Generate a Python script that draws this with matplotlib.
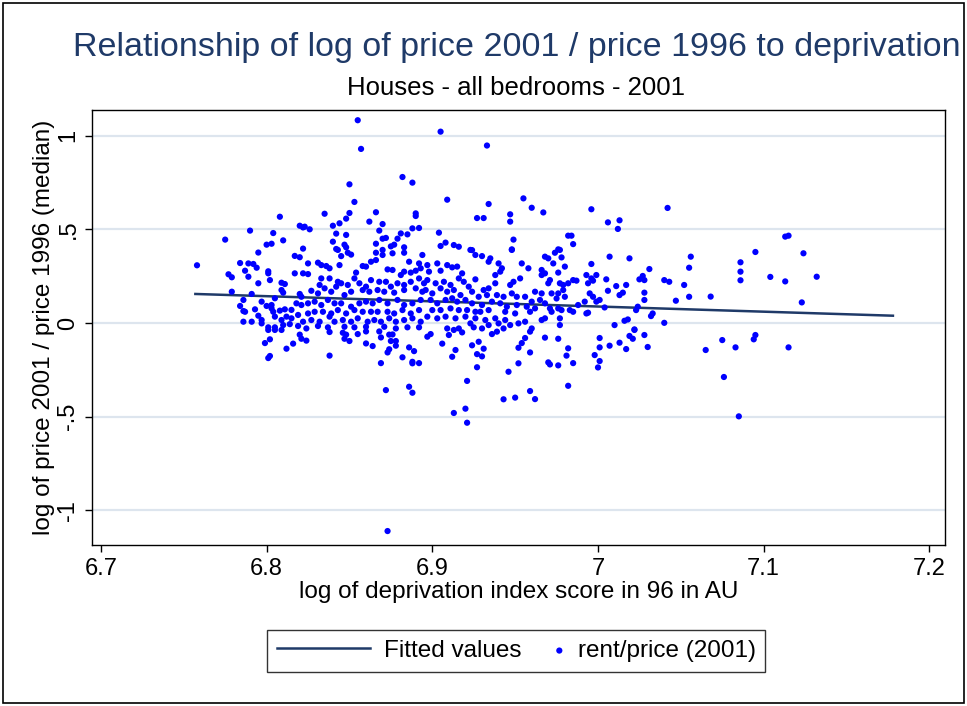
import matplotlib.pyplot as plt
from matplotlib.patches import Rectangle
from matplotlib.legend_handler import HandlerPathCollection

plt.rcParams['font.family'] = ['Liberation Sans', 'DejaVu Sans']

# log of deprivation index score (x) and log price ratio (y)
dep_x = [
    6.808, 6.790, 6.820, 6.822, 6.775, 6.804, 6.810, 6.800, 6.803, 6.822,
    6.855, 6.857, 6.882, 6.888, 6.850, 6.853, 6.835, 6.850, 6.848, 6.844,
    6.840, 6.866, 6.862, 6.870, 6.890, 6.890, 6.823, 6.826, 6.868, 6.888,
    6.892, 6.842, 6.848, 6.881, 6.885, 6.870, 6.872, 6.879, 6.840, 6.866,
    6.847, 6.848, 6.875, 6.877, 6.883, 6.842,
    6.905, 6.933, 6.909, 6.934, 6.955, 6.960, 6.967, 6.927, 6.931, 6.947,
    6.947, 6.904, 6.949, 6.905, 6.908, 6.913, 6.916, 6.924, 6.948,
    6.996, 7.042, 7.006, 7.013, 7.012, 6.982, 6.984, 6.985, 6.976,
    7.113, 7.115, 7.095, 7.124, 7.086, 7.086, 7.086, 7.104, 7.113, 7.132,
    7.068, 7.123, 7.075, 7.095, 7.094, 7.065, 7.083, 7.115, 7.076, 7.085,
    6.897, 6.899, 6.910, 6.913, 6.918, 6.906, 6.914, 6.912, 6.924, 6.928,
    6.931, 6.927, 6.930, 6.927, 6.921, 6.913, 6.920, 6.921, 6.936, 6.939,
    6.946, 6.943, 6.950, 6.952, 6.952, 6.954, 6.956, 6.959, 6.959, 6.959,
    6.962, 6.968, 6.976, 6.982, 6.981, 6.970, 6.971, 6.976, 6.985, 6.982,
    7.001, 7.001, 6.998, 7.001, 7.000, 7.007, 7.013, 7.017, 7.019, 7.021,
    7.022, 7.028, 7.030,
    6.824, 6.838, 6.846, 6.848, 6.847, 6.850, 6.855, 6.860, 6.868, 6.869,
    6.874, 6.876, 6.875, 6.878, 6.860, 6.864, 6.878, 6.874, 6.873, 6.886,
    6.889, 6.838, 6.882, 6.869, 6.888, 6.888, 6.892, 6.872, 6.886, 6.888,
    6.873,
    6.799, 6.802, 6.802, 6.801, 6.812, 6.816, 6.820, 6.821, 6.805, 6.809,
    6.801,
    6.758, 6.795, 6.784, 6.789, 6.792, 6.794, 6.787, 6.777, 6.779, 6.789,
    6.801, 6.801, 6.802, 6.795, 6.817, 6.820, 6.817, 6.822, 6.809, 6.811,
    6.809, 6.810, 6.779, 6.791, 6.820, 6.821, 6.786, 6.784, 6.797, 6.805,
    6.786, 6.787, 6.793, 6.800, 6.803, 6.803, 6.804, 6.808, 6.811, 6.815,
    6.818, 6.821, 6.795, 6.797, 6.805, 6.809, 6.812, 6.815, 6.819, 6.822,
    6.786, 6.791, 6.797, 6.801, 6.805, 6.810, 6.814, 6.819,
    6.825, 6.825, 6.831, 6.833, 6.836, 6.838, 6.843, 6.845, 6.844, 6.849,
    6.851, 6.854, 6.858, 6.860, 6.863, 6.866, 6.866, 6.870, 6.870, 6.876,
    6.883, 6.886, 6.892, 6.894, 6.873, 6.876, 6.881, 6.883, 6.887, 6.890,
    6.893, 6.833, 6.838, 6.832, 6.843, 6.845, 6.849, 6.853, 6.856, 6.860,
    6.863, 6.868, 6.872, 6.875, 6.879, 6.883, 6.887, 6.892, 6.895, 6.827,
    6.831, 6.835, 6.839, 6.842, 6.847, 6.851, 6.858, 6.862, 6.867, 6.871,
    6.877, 6.883, 6.890, 6.894, 6.825, 6.829, 6.833, 6.837, 6.841, 6.845,
    6.851, 6.856, 6.860, 6.864, 6.868, 6.873, 6.879, 6.883, 6.888, 6.893,
    6.825, 6.829, 6.834, 6.839, 6.843, 6.848, 6.853, 6.858, 6.863, 6.867,
    6.873, 6.877, 6.882, 6.887, 6.892, 6.827, 6.832, 6.838, 6.841, 6.846,
    6.851, 6.855, 6.861, 6.865, 6.869, 6.874, 6.878, 6.883, 6.888, 6.893,
    6.824, 6.831, 6.837, 6.847, 6.853, 6.860, 6.871, 6.878, 6.885, 6.892,
    6.897, 6.898, 6.903, 6.905, 6.909, 6.912, 6.915, 6.918, 6.923, 6.926,
    6.930, 6.934, 6.935, 6.940, 6.942, 6.938, 6.941, 6.948, 6.954, 6.958,
    6.966, 6.966, 6.897, 6.902, 6.907, 6.911, 6.916, 6.919, 6.922, 6.926,
    6.931, 6.934, 6.938, 6.947, 6.949, 6.953, 6.951, 6.962, 6.966, 6.896,
    6.900, 6.905, 6.909, 6.913, 6.917, 6.924, 6.928, 6.933, 6.939, 6.943,
    6.948, 6.956, 6.960, 6.965, 6.899, 6.903, 6.908, 6.912, 6.915, 6.920,
    6.924, 6.930, 6.936, 6.941, 6.945, 6.951, 6.957, 6.962, 6.900, 6.905,
    6.911, 6.916, 6.921, 6.926, 6.929, 6.934, 6.944, 6.950, 6.959, 6.897,
    6.903, 6.908, 6.914, 6.920, 6.926, 6.932, 6.938, 6.944, 6.952, 6.956,
    6.923, 6.934, 6.940, 6.947, 6.909, 6.916, 6.925, 6.930, 6.943, 6.960,
    6.966,
    6.968, 6.970, 6.974, 6.978, 6.977, 6.973, 6.980, 6.968, 6.976, 6.971,
    6.970, 6.977, 6.979, 6.982, 6.985, 6.987, 6.993, 6.996, 6.999, 6.994,
    6.997, 7.007, 7.019, 6.996, 7.005, 7.006, 7.011, 7.017, 7.013, 7.015,
    7.025, 7.027, 7.028, 7.031, 7.040, 7.043, 7.056, 7.055, 7.052, 7.055,
    7.047, 7.028, 7.028, 6.972, 6.976, 6.979, 6.975, 6.980, 6.995, 6.997,
    6.999, 7.001, 6.992, 6.988, 6.968, 6.971, 6.976, 6.978, 6.983, 6.985,
    6.972, 7.004, 7.023, 7.024, 6.993, 6.994, 7.033, 7.032, 6.968, 6.977,
    6.977, 7.010, 7.016, 7.018, 7.022, 7.040,
]
price_y = [
    0.567, 0.493, 0.519, 0.510, 0.445, 0.480, 0.441, 0.418, 0.423, 0.397,
    1.082, 0.929, 0.779, 0.749, 0.740, 0.646, 0.583, 0.587, 0.557, 0.532,
    0.519, 0.591, 0.541, 0.528, 0.585, 0.571, 0.514, 0.500, 0.493, 0.505,
    0.507, 0.477, 0.470, 0.478, 0.473, 0.450, 0.454, 0.450, 0.434, 0.423,
    0.418, 0.404, 0.409, 0.418, 0.404, 0.395,
    1.021, 0.947, 0.658, 0.635, 0.665, 0.615, 0.590, 0.560, 0.560, 0.580,
    0.541, 0.482, 0.445, 0.411, 0.429, 0.416, 0.407, 0.389, 0.393,
    0.607, 0.614, 0.537, 0.548, 0.502, 0.466, 0.466, 0.421, 0.393,
    0.461, 0.466, 0.379, 0.372, 0.324, 0.274, 0.228, 0.246, 0.222, 0.247,
    0.141, 0.110, -0.091, -0.064, -0.087, -0.144, -0.130, -0.130, -0.288, -0.498,
    -0.073, -0.059, -0.064, -0.037, -0.050, -0.110, -0.144, -0.180, -0.119, -0.100,
    -0.137, -0.166, -0.178, -0.236, -0.309, -0.480, -0.457, -0.532, -0.059, -0.046,
    -0.260, -0.407, -0.398, -0.215, -0.132, -0.107, -0.080, -0.046, -0.157, -0.363,
    -0.406, -0.078, -0.084, -0.135, -0.174, -0.210, -0.221, -0.226, -0.214, -0.335,
    -0.080, -0.130, -0.171, -0.203, -0.237, -0.121, -0.105, -0.139, -0.069, -0.084,
    -0.037, -0.064, -0.128,
    -0.094, -0.048, -0.052, -0.062, -0.084, -0.096, -0.059, -0.045, -0.045, -0.077,
    -0.062, -0.061, -0.096, -0.096, -0.109, -0.123, -0.121, -0.140, -0.157, -0.130,
    -0.150, -0.174, -0.183, -0.214, -0.207, -0.215, -0.214, -0.358, -0.340, -0.372,
    -1.110,
    -0.107, -0.087, -0.176, -0.187, -0.137, -0.110, -0.062, -0.084, -0.037, -0.037,
    -0.037,
    0.308, 0.376, 0.320, 0.318, 0.315, 0.295, 0.279, 0.260, 0.244, 0.247,
    0.276, 0.265, 0.229, 0.212, 0.358, 0.351, 0.265, 0.265, 0.215, 0.208,
    0.176, 0.162, 0.167, 0.155, 0.155, 0.140, 0.123, 0.091, 0.114, 0.132,
    0.064, 0.060, 0.073, 0.091, 0.078, 0.096, 0.060, 0.066, 0.073, 0.070,
    0.105, 0.096, 0.039, 0.016, 0.034, 0.016, 0.034, 0.025, 0.043, 0.007,
    0.007, 0.007, -0.002, -0.023, -0.023, -0.011, -0.006, -0.016,
    0.318, 0.261, 0.322, 0.309, 0.304, 0.292, 0.390, 0.357, 0.309, 0.375,
    0.365, 0.269, 0.304, 0.301, 0.327, 0.336, 0.375, 0.363, 0.390, 0.372,
    0.375, 0.327, 0.318, 0.363, 0.286, 0.283, 0.256, 0.274, 0.269, 0.279,
    0.292, 0.238, 0.238, 0.203, 0.220, 0.212, 0.203, 0.238, 0.212, 0.194,
    0.229, 0.220, 0.220, 0.194, 0.212, 0.203, 0.220, 0.238, 0.212, 0.172,
    0.158, 0.185, 0.167, 0.194, 0.149, 0.167, 0.176, 0.167, 0.176, 0.167,
    0.162, 0.176, 0.185, 0.167, 0.105, 0.114, 0.096, 0.123, 0.105, 0.105,
    0.087, 0.105, 0.114, 0.105, 0.123, 0.105, 0.123, 0.096, 0.105, 0.123,
    0.051, 0.060, 0.060, 0.051, 0.069, 0.051, 0.069, 0.060, 0.060, 0.060,
    0.060, 0.051, 0.069, 0.051, 0.069, 0.016, 0.007, 0.034, 0.007, 0.016,
    0.007, 0.025, 0.007, 0.016, 0.007, 0.025, 0.007, 0.016, 0.025, 0.007,
    -0.029, -0.016, -0.023, -0.020, -0.023, -0.020, -0.020, -0.029, -0.023, -0.023,
    0.309, 0.274, 0.318, 0.279, 0.309, 0.297, 0.301, 0.265, 0.390, 0.363,
    0.357, 0.327, 0.345, 0.318, 0.292, 0.256, 0.274, 0.390, 0.318, 0.292,
    0.283, 0.256, 0.229, 0.212, 0.220, 0.203, 0.238, 0.220, 0.194, 0.233,
    0.176, 0.185, 0.212, 0.203, 0.220, 0.238, 0.140, 0.167, 0.158, 0.176,
    0.158, 0.185, 0.167, 0.176, 0.149, 0.167, 0.140, 0.149, 0.149, 0.140,
    0.158, 0.140, 0.114, 0.123, 0.123, 0.105, 0.123, 0.132, 0.114, 0.123,
    0.105, 0.096, 0.114, 0.105, 0.087, 0.096, 0.087, 0.078, 0.069, 0.069,
    0.078, 0.069, 0.069, 0.060, 0.060, 0.069, 0.060, 0.051, 0.060, 0.034,
    0.025, 0.034, 0.025, 0.034, 0.025, 0.016, 0.025, 0.016, -0.002, 0.007,
    -0.002, -0.011, -0.002, -0.011, -0.029, -0.029, -0.023, -0.029, -0.029, -0.029,
    0.016,
    0.354, 0.345, 0.375, 0.350, 0.390, 0.318, 0.301, 0.265, 0.269, 0.229,
    0.212, 0.212, 0.203, 0.212, 0.229, 0.226, 0.256, 0.238, 0.256, 0.212,
    0.226, 0.354, 0.345, 0.315, 0.233, 0.172, 0.197, 0.203, 0.149, 0.162,
    0.233, 0.251, 0.229, 0.288, 0.229, 0.220, 0.354, 0.295, 0.203, 0.140,
    0.119, 0.162, 0.123, 0.158, 0.158, 0.176, 0.131, 0.140, 0.158, 0.140,
    0.114, 0.123, 0.114, 0.096, 0.105, 0.078, 0.078, 0.069, 0.069, 0.060,
    0.060, 0.083, 0.069, 0.087, 0.051, 0.055, 0.051, 0.037, 0.025, 0.025,
    -0.011, -0.011, 0.012, 0.019, -0.034, 0.001,
]

# fitted values (linear fit), end points
fit_x = [6.757, 7.178]
fit_y = [0.155, 0.039]

xticks = [6.7, 6.8, 6.9, 7.0, 7.1, 7.2]
xtick_labels = ["6.7", "6.8", "6.9", "7", "7.1", "7.2"]
yticks = [-1, -0.5, 0, 0.5, 1]
ytick_labels = ["-1", "-.5", "0", ".5", "1"]

navy = "#1f3a68"


class RightDot(HandlerPathCollection):
    # put the marker at the right end of the legend handle, next to its text
    def get_xdata(self, legend, xdescent, ydescent, width, height, fontsize):
        x = [-xdescent + width - 0.15 * fontsize]
        return x, x


fig = plt.figure(figsize=(9.67, 7.06), dpi=100)
ax = fig.add_axes([0.0951, 0.228, 0.8821, 0.6162])

ax.set_xlim(6.6946, 7.2094)
ax.set_ylim(-1.1846, 1.1366)

for yt in yticks:
    ax.axhline(yt, color="#dde5ee", lw=1.6, zorder=0)

ax.plot(fit_x, fit_y, color=navy, lw=1.8, zorder=2, label="Fitted values")
pts = ax.scatter(dep_x, price_y, s=20, color="#0000ff", edgecolors="none", zorder=3,
                 label="rent/price (2001)")

ax.set_xticks(xticks)
ax.set_xticklabels(xtick_labels)
ax.set_yticks(yticks)
ax.set_yticklabels(ytick_labels, rotation=90, va="center")
ax.tick_params(axis="both", direction="out", length=5, width=1, labelsize=17, pad=4)

for sp in ax.spines.values():
    sp.set_color("black")
    sp.set_linewidth(1)

ax.set_xlabel("log of deprivation index score in 96 in AU", fontsize=17.5, labelpad=1)
ax.set_ylabel("log of price 2001 / price 1996 (median)", fontsize=17.5, labelpad=2)

fig.text(0.534, 0.933, "Relationship of log of price 2001 / price 1996 to deprivation",
         ha="center", va="center", fontsize=24.5, color=navy)
fig.text(0.534, 0.876, "Houses - all bedrooms - 2001",
         ha="center", va="center", fontsize=18.5)

leg = fig.legend(loc="center", bbox_to_anchor=(0.534, 0.078), ncol=2, fontsize=17.5,
                 frameon=True, fancybox=False, edgecolor="black", borderpad=0.4,
                 handlelength=3.8, handletextpad=0.6, columnspacing=-2.1,
                 scatterpoints=1, handler_map={pts: RightDot()})
leg.get_frame().set_linewidth(1)

fig.patches.append(Rectangle((0.003, 0.004), 0.994, 0.992, transform=fig.transFigure,
                             fill=False, edgecolor="black", lw=1.2))

fig.savefig("out.png", dpi=100)
